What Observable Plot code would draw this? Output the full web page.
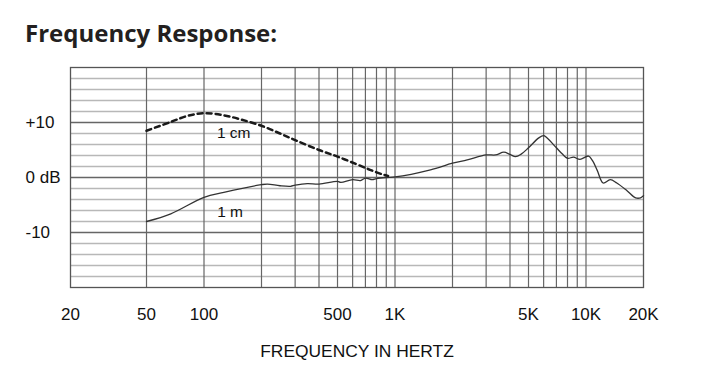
<!DOCTYPE html>
<html>
<head>
<meta charset="utf-8">
<script src="https://cdn.jsdelivr.net/npm/d3@7"></script>
<script src="https://cdn.jsdelivr.net/npm/@observablehq/plot@0.6"></script>
<style>
  html, body { margin: 0; padding: 0; background: #fff; }
  body { width: 705px; height: 381px; position: relative; overflow: hidden; }
  #title { position: absolute; left: 25px; top: 21px; font: bold 24px "Open Sans", sans-serif; line-height: 1; color: #231f20; white-space: nowrap; }
  #chart { position: absolute; left: 0; top: 55px; }
</style>
</head>
<body>
<div id="title">Frequency Response:</div>
<div id="chart"></div>
<script>
// 1 m curve (Hz, dB)
const freq1m = [50, 67, 100, 127, 200, 215, 250, 284, 300, 347, 400, 500, 520, 600, 660, 700, 760, 800, 900, 1000, 1534, 2000, 2388, 3000, 3360, 3715, 4000, 4276, 4557, 5000, 5662, 6000, 6200, 7000, 7500, 8000, 8600, 9300, 10300, 10800, 11450, 12300, 13400, 14500, 16400, 18200, 19300, 20000];
const db1m = [-8.0, -6.6, -3.6, -2.7, -1.3, -1.2, -1.5, -1.6, -1.4, -1.1, -1.2, -0.7, -0.9, -0.4, -0.55, -0.1, -0.4, -0.2, 0.0, 0.1, 1.4, 2.6, 3.2, 4.1, 4.1, 4.6, 4.2, 3.8, 4.2, 5.4, 7.2, 7.6, 7.3, 5.4, 4.3, 3.5, 3.7, 3.3, 3.9, 3.1, 1.3, -1.0, -0.4, -1.0, -2.4, -3.7, -3.7, -3.3];

// 1 cm curve (Hz, dB)
const freq1cm = [50, 67, 82, 100, 127, 158, 200, 250, 300, 400, 500, 630, 740, 855, 920];
const db1cm = [8.5, 10.1, 11.2, 11.7, 11.3, 10.5, 9.4, 8.0, 6.8, 5.0, 3.8, 2.4, 1.4, 0.6, 0.3];

// curve labels
const curveLabels = ["1 cm", "1 m"];
const labelFreq = [143, 137];
const labelDb = [8.0, -6.2];

// axes
const xTicks = [20, 50, 100, 500, 1000, 5000, 10000, 20000];
const xTickLabels = ["20", "50", "100", "500", "1K", "5K", "10K", "20K"];
const yTicks = [10, 0, -10];
const yTickLabels = ["+10", "0 dB", "-10"];
const xTitle = "FREQUENCY IN HERTZ";

// grid
const gridFreqs = [50, 100, 200, 300, 400, 500, 600, 700, 800, 900, 1000, 2000, 3000, 4000, 5000, 6000, 7000, 8000, 9000, 10000];
const gridMajorDb = [-10, 0, 10];
const gridMinorDb = [-18, -16, -14, -12, -8, -6, -4, -2, 2, 4, 6, 8, 12, 14, 16, 18];

const line1m = freq1m.map((f, i) => ({f, db: db1m[i]}));
const line1cm = freq1cm.map((f, i) => ({f, db: db1cm[i]}));
const labels = curveLabels.map((t, i) => ({t, f: labelFreq[i], db: labelDb[i]}));
const xLab = new Map(xTicks.map((t, i) => [t, xTickLabels[i]]));
const yLab = new Map(yTicks.map((t, i) => [t, yTickLabels[i]]));

const plot = Plot.plot({
  width: 705,
  height: 326,
  marginTop: 12,
  marginBottom: 94,
  marginLeft: 70,
  marginRight: 62,
  x: {type: "log", domain: [20, 20000], axis: null},
  y: {domain: [-20, 20]},
  style: {fontFamily: "'Liberation Sans', Arial, sans-serif", fontSize: "17px", color: "#111", background: "#fff"},
  marks: [
    Plot.ruleY(gridMinorDb, {stroke: "#b8b8b8", strokeWidth: 1.4}),
    Plot.ruleY(gridMajorDb, {stroke: "#666", strokeWidth: 1.3}),
    Plot.ruleX(gridFreqs, {stroke: "#666", strokeWidth: 1.2}),
    Plot.frame({stroke: "#555", strokeWidth: 1.3}),
    Plot.text(xTicks, {x: d => d, text: d => xLab.get(d), frameAnchor: "bottom", lineAnchor: "top", dy: 20, fontSize: 17, fill: "#111"}),
    Plot.axisY({ticks: yTicks, tickFormat: d => yLab.get(d), tickSize: 0, tickPadding: 45, textAnchor: "start", label: null, fontSize: 17}),
    Plot.text([xTitle], {frameAnchor: "bottom", dy: 69, fontSize: 17.4, fill: "#111"}),
    Plot.line(line1m, {x: "f", y: "db", stroke: "#333", strokeWidth: 1.3, curve: "catmull-rom"}),
    Plot.line(line1cm, {x: "f", y: "db", stroke: "#1a1a1a", strokeWidth: 2.5, strokeDasharray: "5,4", curve: "catmull-rom"}),
    Plot.text(labels, {x: "f", y: "db", text: "t", fontSize: 15.5, fill: "#111"})
  ]
});
document.getElementById("chart").appendChild(plot);
</script>
</body>
</html>
